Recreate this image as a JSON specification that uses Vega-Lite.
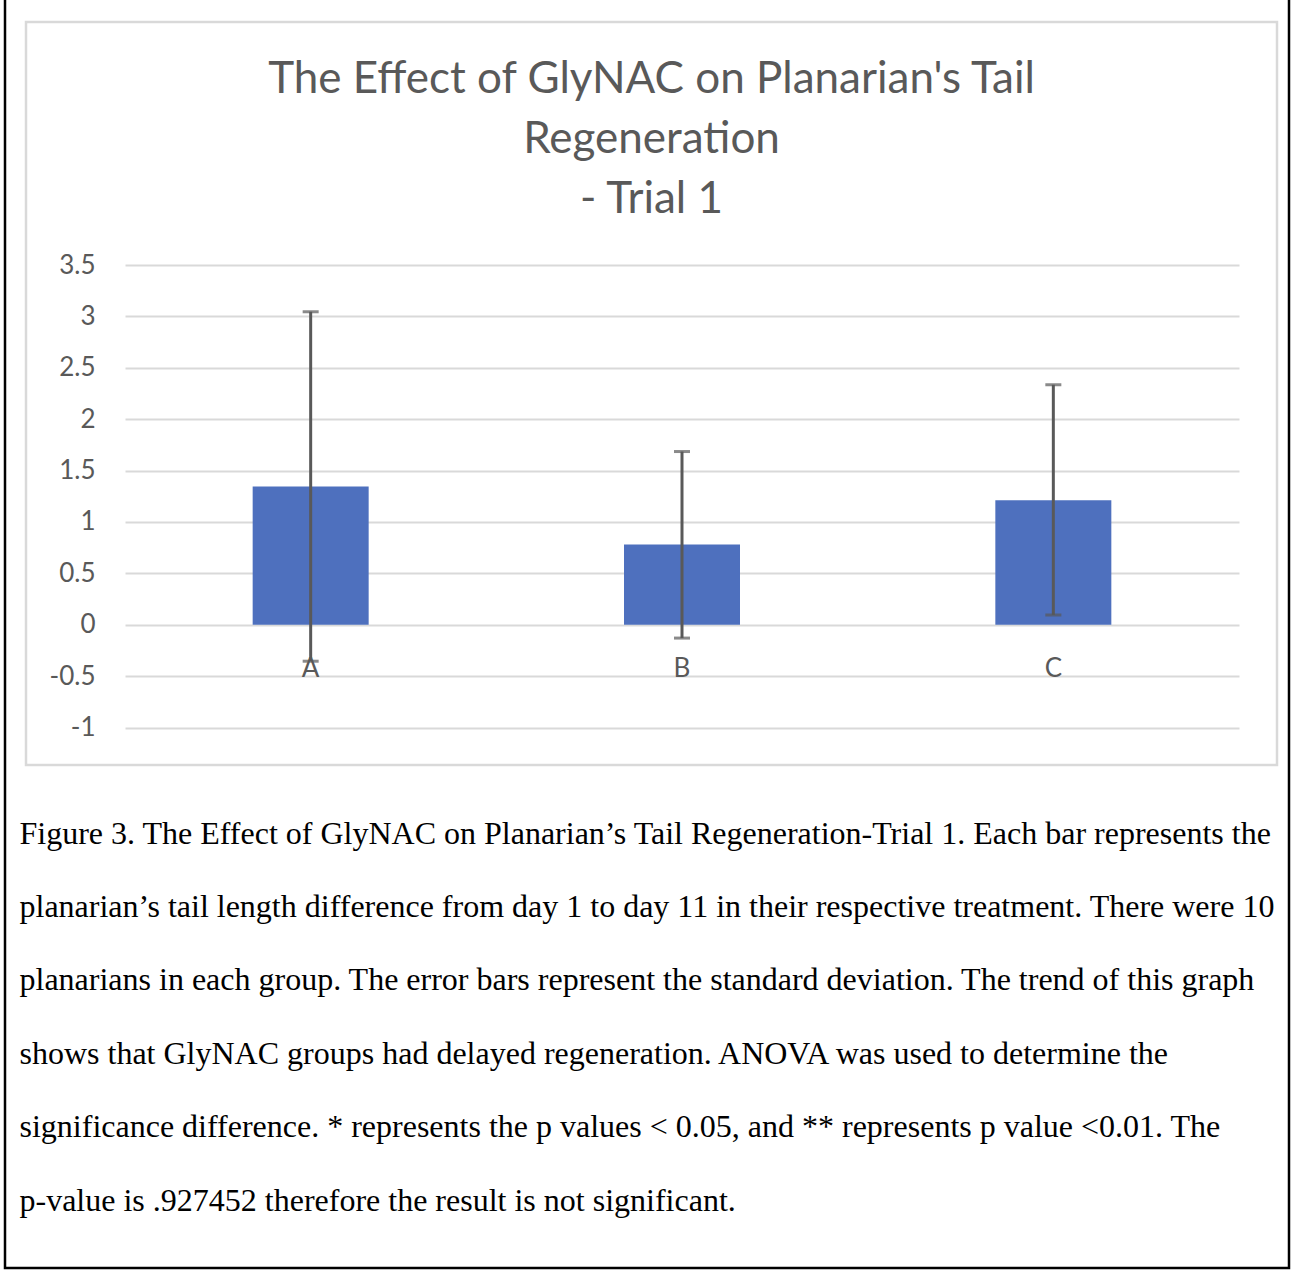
{
  "$schema": "https://vega.github.io/schema/vega-lite/v6.json",
  "width": 1251,
  "height": 743,
  "autosize": {"type": "none"},
  "padding": {"left": 26, "top": 22, "right": 19, "bottom": 513},
  "background": "white",
  "config": {"view": {"stroke": "#d9d9d9", "strokeWidth": 2.5}, "font": "Lato"},
  "title": {
    "text": ["The Effect of GlyNAC on Planarian's Tail", "Regeneration", "- Trial 1"],
    "anchor": "middle",
    "frame": "group",
    "fontSize": 44,
    "fontWeight": "normal",
    "color": "#595959",
    "font": "Lato",
    "lineHeight": 60,
    "baseline": "bottom",
    "offset": -275
  },
  "layer": [
    {
      "data": {"values": [
        {"group": "A", "mean": 1.345, "lo": -0.355, "hi": 3.045},
        {"group": "B", "mean": 0.78, "lo": -0.13, "hi": 1.685},
        {"group": "C", "mean": 1.21, "lo": 0.095, "hi": 2.335}
      ]},
      "encoding": {
        "x": {
          "field": "group",
          "type": "nominal",
          "scale": {"range": [99, 1213], "paddingInner": 0, "paddingOuter": 0},
          "axis": {
            "orient": "bottom",
            "offset": -110,
            "domain": false,
            "ticks": false,
            "grid": false,
            "labelAngle": 0,
            "labelPadding": 0,
            "labelFontSize": 26,
            "labelColor": "#595959",
            "labelFont": "Lato",
            "title": [
              "Figure 3. The Effect of GlyNAC on Planarian’s Tail Regeneration-Trial 1. Each bar represents the",
              "planarian’s tail length difference from day 1 to day 11 in their respective treatment. There were 10",
              "planarians in each group. The error bars represent the standard deviation. The trend of this graph",
              "shows that GlyNAC groups had delayed regeneration. ANOVA was used to determine the",
              "significance difference. * represents the p values < 0.05, and ** represents p value <0.01. The",
              "p-value is .927452 therefore the result is not significant."
            ],
            "titleFont": "Liberation Serif",
            "titleFontSize": 32,
            "titleFontWeight": "normal",
            "titleColor": "black",
            "titleAnchor": "start",
            "titleAlign": "left",
            "titleBaseline": "alphabetic",
            "titleLineHeight": 73.4,
            "titleX": -7,
            "titleY": 188
          }
        }
      },
      "layer": [
        {
          "mark": {"type": "bar", "width": 116, "color": "#4e70be"},
          "encoding": {
            "y": {
              "field": "mean",
              "type": "quantitative",
              "scale": {"domain": [-1, 3.5], "range": [705.5, 243], "nice": false, "zero": false},
              "axis": {
                "title": null,
                "values": [-1, -0.5, 0, 0.5, 1, 1.5, 2, 2.5, 3, 3.5],
                "format": "~g",
                "labelExpr": "replace(datum.label, '−', '-')",
                "offset": -69,
                "domain": false,
                "ticks": false,
                "labelPadding": 0,
                "labelFontSize": 26,
                "labelColor": "#595959",
                "labelFont": "Lato",
                "grid": true,
                "gridColor": "#d9d9d9",
                "gridWidth": 2
              }
            }
          }
        },
        {
          "mark": {"type": "rule", "color": "#595959", "strokeWidth": 3},
          "encoding": {
            "y": {"field": "lo", "type": "quantitative"},
            "y2": {"field": "hi"}
          }
        },
        {
          "mark": {"type": "tick", "color": "#595959", "size": 16, "thickness": 3},
          "encoding": {"y": {"field": "hi", "type": "quantitative"}}
        },
        {
          "mark": {"type": "tick", "color": "#595959", "size": 16, "thickness": 3},
          "encoding": {"y": {"field": "lo", "type": "quantitative"}}
        }
      ]
    },
    {
      "data": {"values": [{"frame": "outer"}]},
      "mark": {"type": "rect", "x": -21, "x2": 1263, "y": -30, "y2": 1246, "fillOpacity": 0, "stroke": "black", "strokeWidth": 2.5, "clip": false},
      "encoding": {}
    }
  ]
}
